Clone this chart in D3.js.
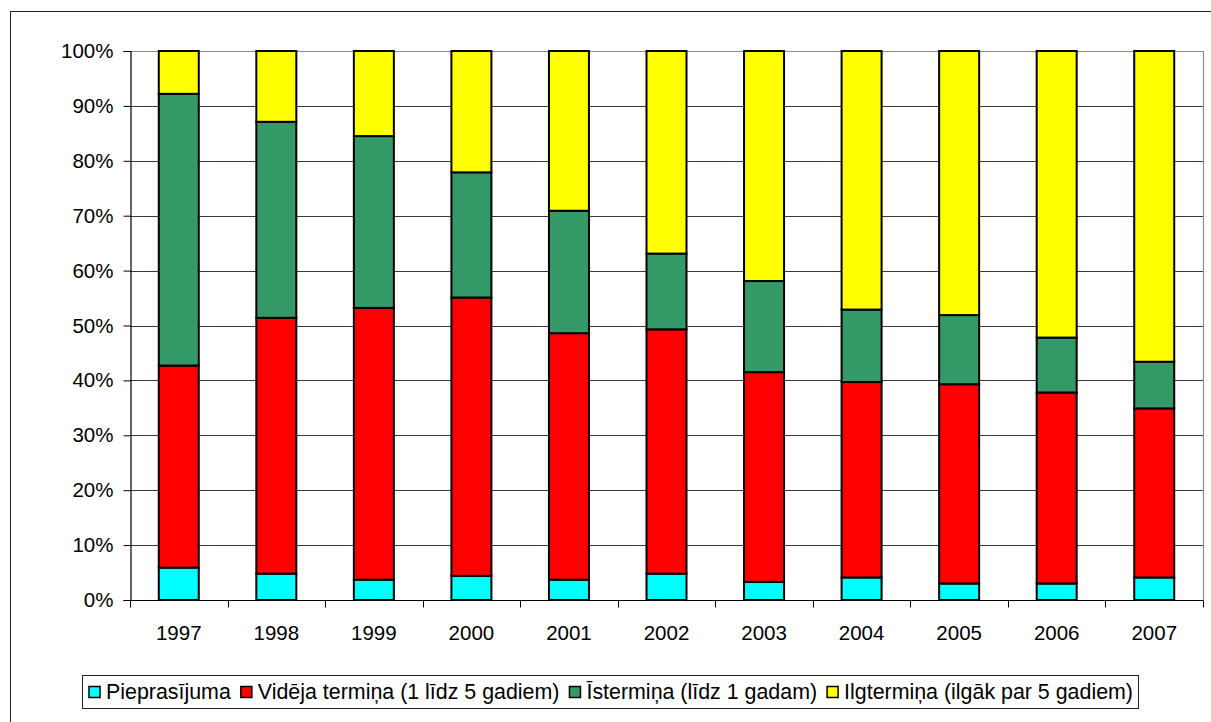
<!DOCTYPE html>
<html>
<head>
<meta charset="utf-8">
<script src="https://cdn.jsdelivr.net/npm/d3@7/dist/d3.min.js"></script>
<style>
  html, body { margin: 0; padding: 0; background: #fff; }
  svg { display: block; font-family: "Liberation Sans", Arial, sans-serif; }
</style>
</head>
<body>
<svg id="chart" width="1211" height="722"></svg>
<script>
// Years on the category axis
const years = ["1997", "1998", "1999", "2000", "2001", "2002", "2003", "2004", "2005", "2006", "2007"];

// Series names, bottom to top of each column
const seriesNames = [
  "Pieprasījuma",
  "Vidēja termiņa (1 līdz 5 gadiem)",
  "Īstermiņa (līdz 1 gadam)",
  "Ilgtermiņa (ilgāk par 5 gadiem)"
];

// Share of each term, per cent of the year's total
const pieprasijuma = [5.9, 4.8, 3.7, 4.4, 3.7, 4.8, 3.3, 4.1, 3.0, 3.0, 4.1];
const videjaTermina = [36.8, 46.6, 49.5, 50.7, 44.9, 44.5, 38.2, 35.6, 36.3, 34.8, 30.8];
const istermina = [49.5, 35.7, 31.3, 22.8, 22.3, 13.8, 16.6, 13.2, 12.6, 10.0, 8.5];
const ilgtermina = [7.8, 12.9, 15.5, 22.1, 29.1, 36.9, 41.9, 47.1, 48.1, 52.2, 56.6];

// Y axis tick labels
const yTicks = [0, 0.1, 0.2, 0.3, 0.4, 0.5, 0.6, 0.7, 0.8, 0.9, 1.0];

const colors = ["#00FFFF", "#FF0000", "#339966", "#FFFF00"];

const seriesValues = [pieprasijuma, videjaTermina, istermina, ilgtermina];
const keys = seriesNames;
const rows = years.map((y, i) => {
  const r = { year: y };
  keys.forEach((k, j) => { r[k] = seriesValues[j][i]; });
  return r;
});

const svg = d3.select("#chart");

// Outer chart frame
svg.append("rect")
  .attr("x", 10.5).attr("y", 11.5)
  .attr("width", 1230).attr("height", 740)
  .attr("fill", "none").attr("stroke", "#222").attr("stroke-width", 1);

const plot = { left: 130, right: 1203, top: 51, bottom: 600 };

const x = d3.scaleBand()
  .domain(years)
  .range([plot.left, plot.right])
  .paddingInner(0.59)
  .paddingOuter(0.295);

const y = d3.scaleLinear()
  .domain([0, 1])
  .range([plot.bottom, plot.top]);

const stack = d3.stack().keys(keys).offset(d3.stackOffsetExpand);
const layers = stack(rows);

// Horizontal gridlines
svg.append("g")
  .selectAll("line")
  .data(yTicks.filter(t => t > 0 && t < 1))
  .join("line")
  .attr("x1", plot.left).attr("x2", plot.right)
  .attr("y1", d => Math.round(y(d)) + 0.5).attr("y2", d => Math.round(y(d)) + 0.5)
  .attr("stroke", "#3a3a3a").attr("stroke-width", 1);

// Plot area border (top and right)
svg.append("path")
  .attr("d", `M${plot.left},${plot.top + 0.5}H${plot.right + 0.5}V${plot.bottom}`)
  .attr("fill", "none").attr("stroke", "#8c8c8c").attr("stroke-width", 1.2);

// Stacked columns
svg.append("g")
  .selectAll("g")
  .data(layers)
  .join("g")
  .attr("fill", (d, i) => colors[i])
  .selectAll("rect")
  .data(d => d)
  .join("rect")
  .attr("x", d => x(d.data.year))
  .attr("width", x.bandwidth())
  .attr("y", d => y(d[1]))
  .attr("height", d => y(d[0]) - y(d[1]))
  .attr("stroke", "#000")
  .attr("stroke-width", 2);

// Y axis
const yAxis = d3.axisLeft(y)
  .tickValues(yTicks)
  .tickFormat(d3.format(".0%"))
  .tickSize(7)
  .tickPadding(10);

const gy = svg.append("g")
  .attr("transform", `translate(${plot.left + 0.5},0)`)
  .call(yAxis);
gy.select(".domain").attr("stroke", "#000").attr("stroke-width", 1.2);
gy.selectAll(".tick line").attr("stroke", "#000");
gy.selectAll(".tick text")
  .attr("font-family", "Liberation Sans, Arial, sans-serif")
  .attr("font-size", 20.5).attr("fill", "#000");

// X axis: ticks between categories
const gx = svg.append("g").attr("transform", `translate(0,${plot.bottom + 0.5})`);
gx.append("line")
  .attr("x1", plot.left).attr("x2", plot.right + 0.5)
  .attr("stroke", "#000").attr("stroke-width", 1.2);
const step = x.step();
const boundaries = d3.range(years.length + 1).map(i => plot.left + i * step);
gx.selectAll(".tk")
  .data(boundaries)
  .join("line")
  .attr("class", "tk")
  .attr("x1", d => Math.round(d) + 0.5).attr("x2", d => Math.round(d) + 0.5)
  .attr("y1", 0).attr("y2", 7)
  .attr("stroke", "#000");
gx.selectAll("text")
  .data(years)
  .join("text")
  .attr("x", d => x(d) + x.bandwidth() / 2)
  .attr("y", 39)
  .attr("text-anchor", "middle")
  .attr("font-size", 20.5)
  .attr("fill", "#000")
  .text(d => d);

// Legend
const legend = svg.append("g");
const legendY = 692;
const fontSize = 21.4;
const swatch = 11;
const items = legend.selectAll("g.item")
  .data(seriesNames)
  .join("g")
  .attr("class", "item");
items.append("rect")
  .attr("width", swatch).attr("height", swatch)
  .attr("y", legendY - swatch / 2)
  .attr("fill", (d, i) => colors[i])
  .attr("stroke", "#000").attr("stroke-width", 1.5);
items.append("text")
  .attr("x", swatch + 6)
  .attr("y", legendY)
  .attr("dy", "0.35em")
  .attr("font-size", fontSize)
  .attr("fill", "#000")
  .text(d => d);

let cx = 0;
const gap = 10;
items.each(function () {
  const g = d3.select(this);
  g.attr("transform", `translate(${cx},0)`);
  const w = swatch + 6 + g.select("text").node().getComputedTextLength();
  cx += w + gap;
});
const totalW = cx - gap;
const legendLeft = 89;
legend.attr("transform", `translate(${legendLeft},0)`);
legend.insert("rect", ":first-child")
  .attr("x", -6.5).attr("y", 675.5)
  .attr("width", totalW + 12).attr("height", 33)
  .attr("fill", "#fff").attr("stroke", "#222").attr("stroke-width", 1);
</script>
</body>
</html>
